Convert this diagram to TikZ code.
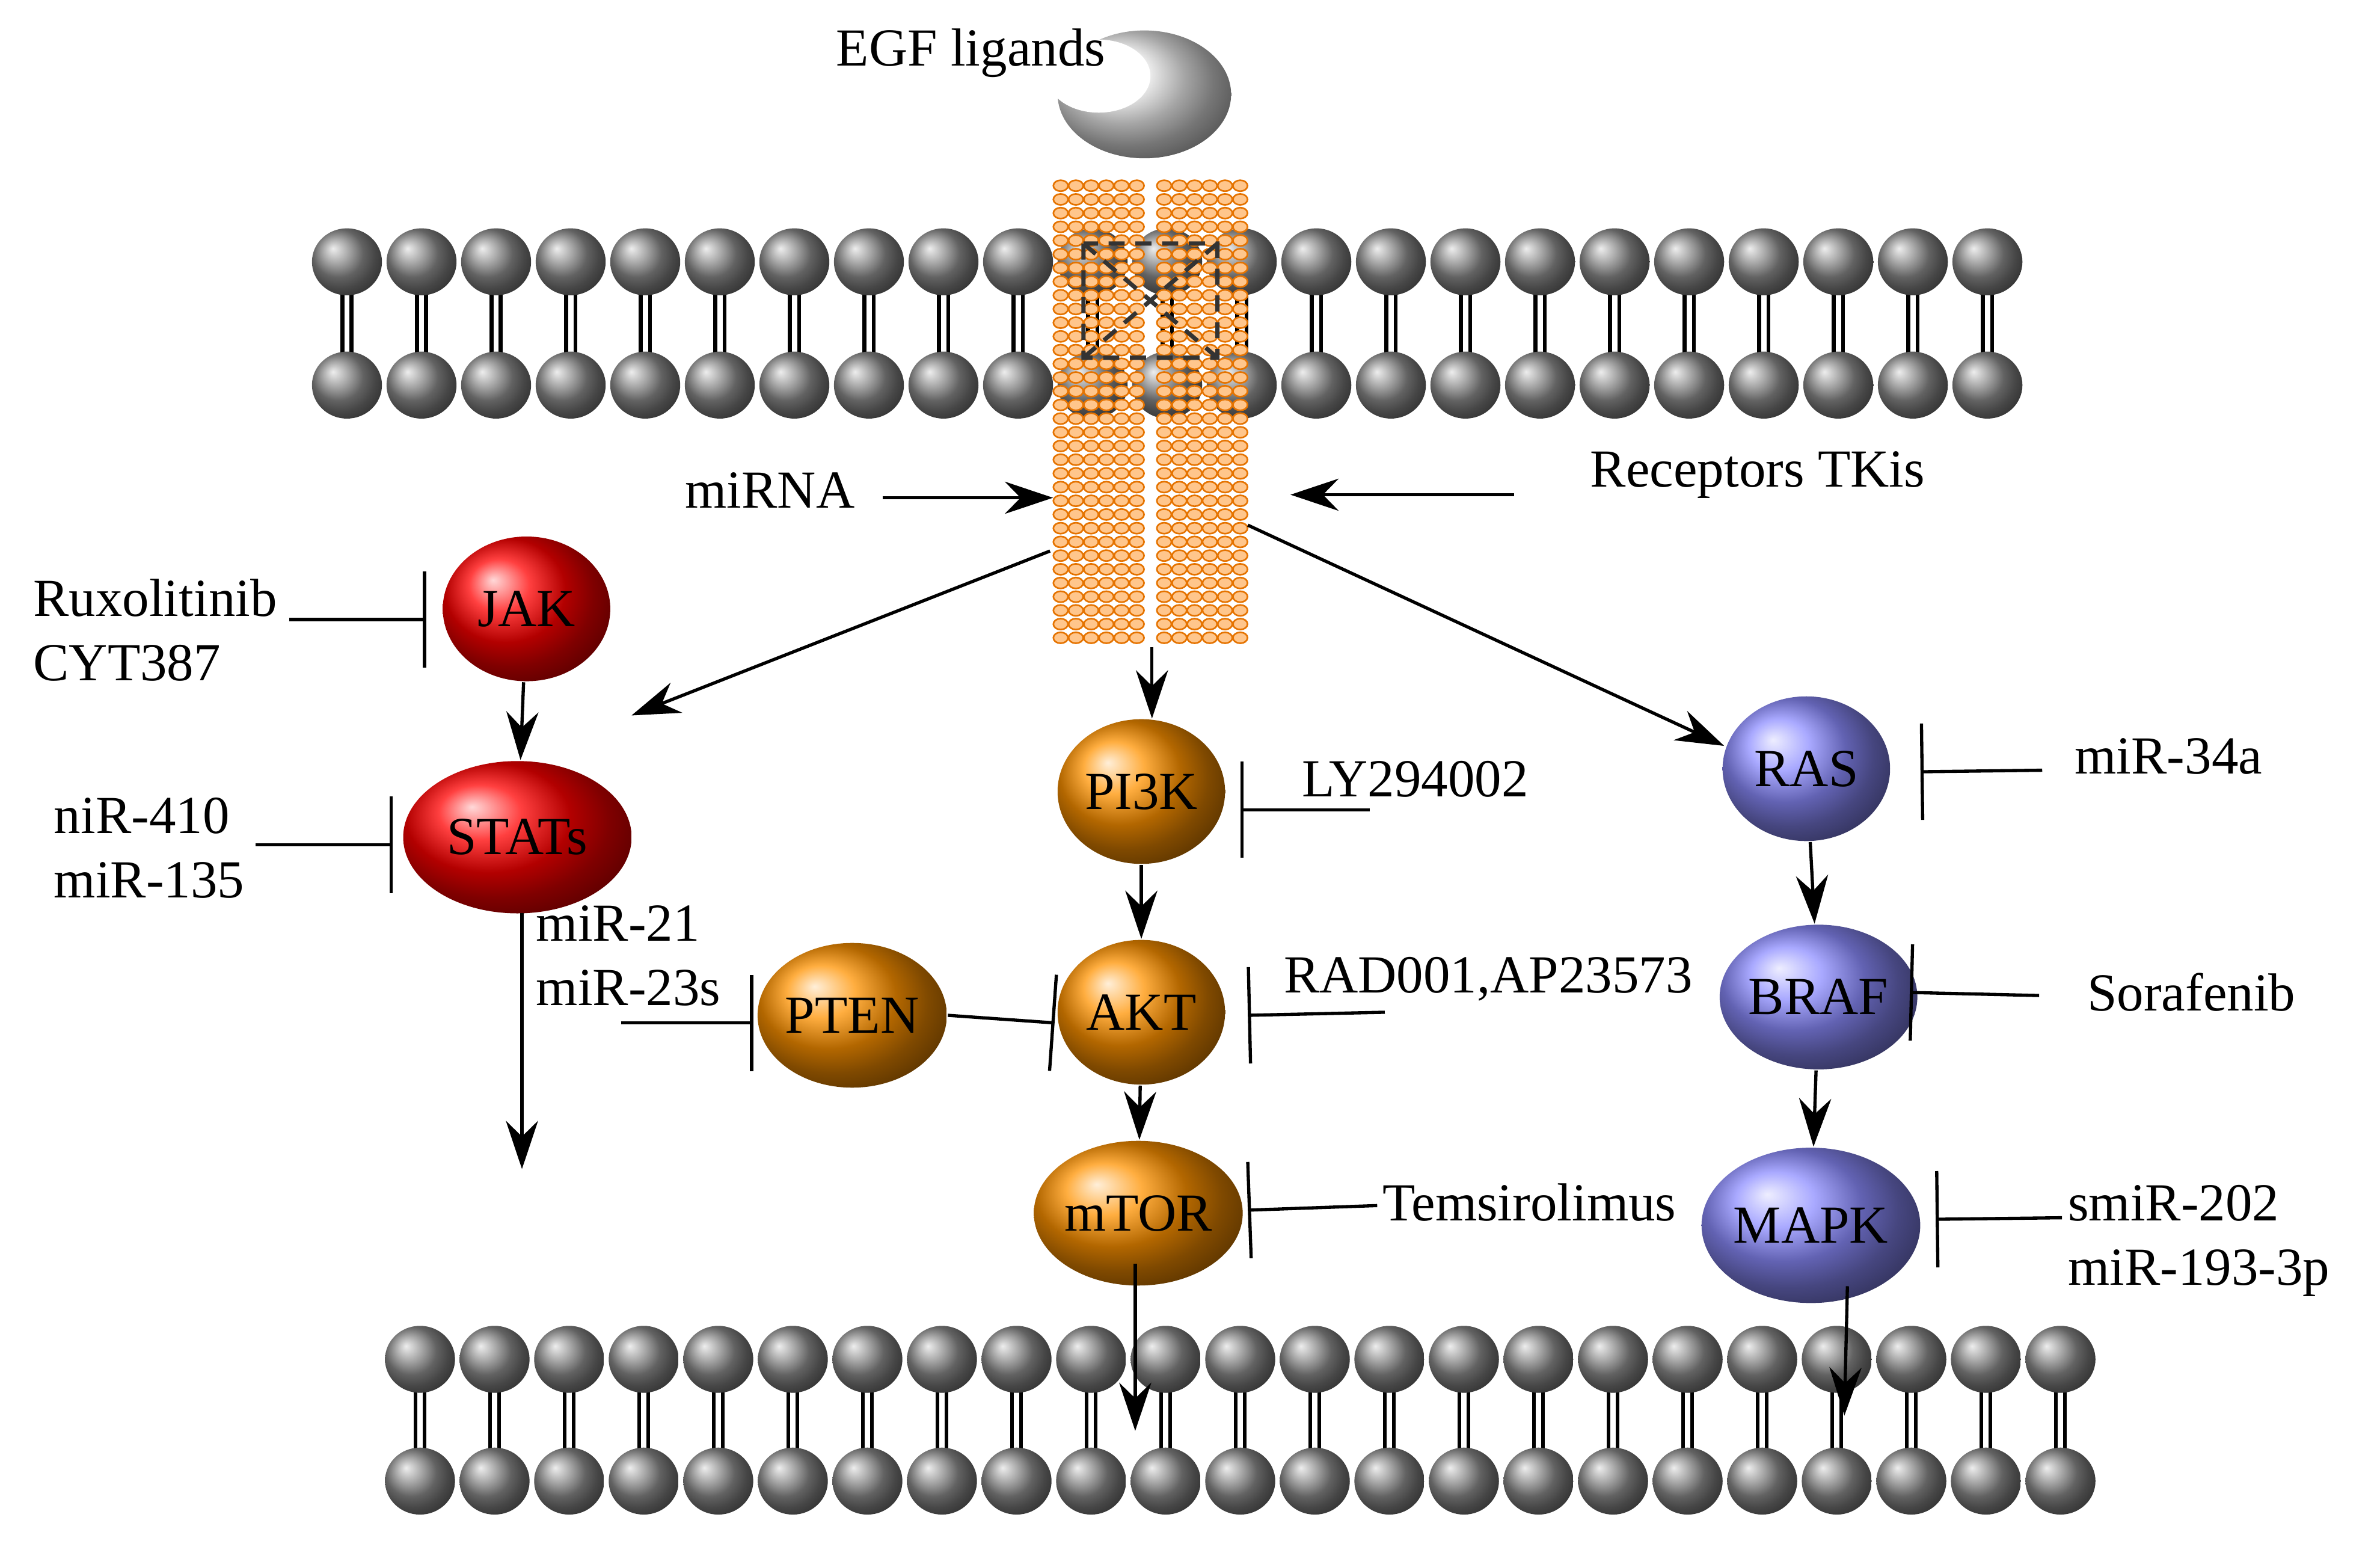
\documentclass[tikz,border=0pt]{standalone}
\usepackage{fontspec}
\setmainfont{Liberation Serif}
\usetikzlibrary{arrows.meta,shapes.geometric}
\begin{document}
\begin{tikzpicture}[x=0.01cm,y=-0.01cm,
  lbl/.style={font=\fontsize{10}{12}\selectfont,inner sep=0pt,align=left},
  prot/.style={ellipse,minimum width=1.1cm,minimum height=0.95cm,inner sep=0pt,font=\fontsize{10}{12}\selectfont},
  redn/.style={prot,ball color=red},
  orn/.style={prot,ball color=orange!85!yellow},
  blun/.style={prot,ball color=blue!45!white},
  act/.style={-{Stealth[length=9pt,width=6pt]},line width=0.6pt},
  inh/.style={-{Bar[width=18pt]},line width=0.6pt},
  head/.style={ball color=black!45}]
\useasboundingbox (0,0) rectangle (1564,1012);
% membranes
\foreach \x in {228,277,...,1330}{
  \draw[line width=0.7pt] (\x-3,190)--(\x-3,235) (\x+3,190)--(\x+3,235);
  \shade[head] (\x,172) ellipse (23 and 22);
  \shade[head] (\x,253) ellipse (23 and 22);}
\foreach \x in {276,325,...,1390}{
  \draw[line width=0.7pt] (\x-3,912)--(\x-3,955) (\x+3,912)--(\x+3,955);
  \shade[head] (\x,893) ellipse (23 and 22);
  \shade[head] (\x,973) ellipse (23 and 22);}
% receptor
\foreach \c in {697,707,...,747,765,775,...,815}{
  \foreach \r in {122,131,...,425}{
    \draw[orange!90!black,fill=orange!45,line width=0.3pt] (\c,\r) ellipse (4.8 and 3.6);}}
\draw[black!80,densely dashed,line width=0.8pt] (712,160)--(800,235) (712,235)--(800,160) (712,160) rectangle (800,235);
% ligand
\shade[ball color=gray!15] (752,62) ellipse (57 and 42);
\fill[white] (722,50) ellipse (34 and 24);
\node[lbl] (egf) at (638,35) {EGF ligands};
% receptor coordinates
\coordinate (rc) at (757,425);
\coordinate (rl) at (692,327);
\coordinate (rr) at (848,325);
\node[lbl] (mirna) at (506,322) {miRNA};
\node[lbl] (tki) at (1155,312) {Receptors TKis};
\draw[act] (580,327) coordinate (m1) -- (rl);
\draw[act] (995,325) coordinate (t1) -- (rr);
% left
\node[redn] (jak) at (346,400) {JAK};
\node[redn,minimum width=1.5cm,minimum height=1.0cm] (stat) at (340,550) {STATs};
\node[lbl] (rux) at (102,414) {Ruxolitinib\\CYT387};
\node[lbl] (nir) at (98,557) {niR-410\\miR-135};
\node[lbl] (m21) at (413,628) {miR-21\\miR-23s};
\draw[act] (jak)--(stat);
\draw[inh] (190,407) coordinate (a1) -- (280,407);
\draw[inh] (168,555) coordinate (a2) -- (258,555);
\draw[act] (343,600) -- (343,768) coordinate (send);
\draw[act] (690,362) coordinate (rx1) -- (415,470);
% middle
\node[orn] (pi3k) at (750,520) {PI3K};
\node[orn] (akt) at (750,665) {AKT};
\node[orn] (pten) at (560,667) {PTEN};
\node[orn] (mtor) at (748,797) {mTOR};
\draw[act] (rc) -- (757,472);
\draw[act] (pi3k)--(akt);
\draw[act] (akt)--(mtor);
\draw[act] (746,830) -- (746,940) coordinate (mend);
\draw[inh] (pten.east) -- (693,672);
\draw[inh] (408,672) coordinate (a3) -- (495,672);
\node[lbl] (ly) at (930,512) {LY294002};
\node[lbl] (rad) at (978,643) {RAD001,AP23573};
\node[lbl] (tem) at (1005,790) {Temsirolimus};
\draw[inh] (900,532) coordinate (a4) -- (815,532);
\draw[inh] (910,665) coordinate (a5) -- (820,667);
\draw[inh] (905,792) coordinate (a6) -- (820,795);
% right
\draw[act] (820,345) coordinate (rx2) -- (1133,490);
\node[blun] (ras) at (1187,505) {RAS};
\node[blun] (braf) at (1195,655) {BRAF};
\node[blun,minimum width=1.22cm,minimum height=1.02cm] (mapk) at (1190,805) {MAPK};
\draw[act] (ras)--(braf);
\draw[act] (braf)--(mapk);
\draw[act] (1214,845) -- (1212,930) coordinate (rend);
\node[lbl] (m34) at (1425,497) {miR-34a};
\node[lbl] (sor) at (1440,652) {Sorafenib};
\node[lbl] (smi) at (1445,815) {smiR-202\\miR-193-3p};
\draw[inh] (1342,506) coordinate (a7) -- (1262,507);
\draw[inh] (1340,654) coordinate (a8) -- (1255,652);
\draw[inh] (1355,800) coordinate (a9) -- (1272,801);
\end{tikzpicture}
\end{document}
